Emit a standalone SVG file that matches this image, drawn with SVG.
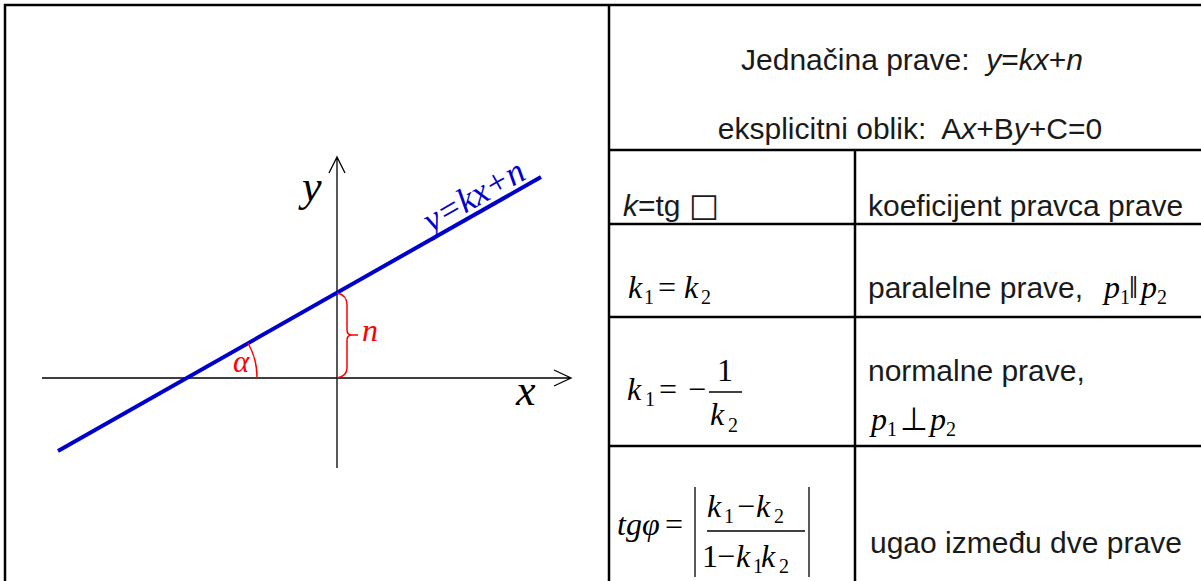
<svg xmlns="http://www.w3.org/2000/svg" width="1201" height="581" viewBox="0 0 1201 581">
<style>
.frame{stroke:#000;stroke-width:2.5;fill:none}
.axis{stroke:#000;stroke-width:1.3;fill:none}
.red{stroke:#f00;stroke-width:1.5;fill:none}
.sans{font-family:"Liberation Sans",Arial,sans-serif;font-size:30px;fill:#1a1a1a}
.m{font-family:"Liberation Serif","Times New Roman",serif;font-size:32px;fill:#000}
.mi{font-family:"Liberation Serif","Times New Roman",serif;font-size:32px;font-style:italic;fill:#000}
.sub{font-family:"Liberation Serif","Times New Roman",serif;font-size:20px;fill:#000}
.thin{stroke:#000;stroke-width:1.3}
</style>
<rect width="1201" height="581" fill="#fff"/>
<g id="frame">
<path class="frame" d="M5,581 V5 H1201"/>
<path class="frame" d="M609,5 V581 M609,150 H1201 M855,150 V581 M609,224 H1201 M609,317 H1201 M609,446 H1201"/>
</g>
<g id="graph">
<g id="axes">
<path class="axis" d="M42,378 H571 M554,370 L571,378 L554,386"/>
<path class="axis" d="M337,468 V157 M329,173 L337,157 L345,173"/>
<text x="516" y="405" font-family="Liberation Serif,serif" font-style="italic" font-size="44">x</text>
<text x="302" y="201" font-family="Liberation Serif,serif" font-style="italic" font-size="44">y</text>
</g>
<g id="line">
<path d="M58,451 L541,177" stroke="#0000cc" stroke-width="4" fill="none"/>
<text transform="translate(431,233) rotate(-29.6)" font-family="Liberation Serif,serif" font-style="italic" font-size="35" fill="#0000cc">y=kx+n</text>
</g>
<g id="angle">
<path class="red" d="M257,378 A70,70 0 0 0 248,343"/>
<text x="233" y="372" font-family="Liberation Serif,serif" font-style="italic" font-size="31" fill="#f00">α</text>
</g>
<g id="intercept">
<path class="red" d="M337,293 Q347,295 347,305 V330 Q347,335 352,335 H358 M352,335 Q347,335 347,340 V368 Q347,376 337,378"/>
<text x="362" y="341" font-family="Liberation Serif,serif" font-style="italic" font-size="32" fill="#f00">n</text>
</g>
</g>
<g id="title">
<text class="sans" x="912" y="70" text-anchor="middle" xml:space="preserve">Jednačina prave:  <tspan font-style="italic">y</tspan>=<tspan font-style="italic">kx</tspan>+<tspan font-style="italic">n</tspan></text>
<text class="sans" x="910" y="139" text-anchor="middle" xml:space="preserve">eksplicitni oblik:  A<tspan font-style="italic">x</tspan>+B<tspan font-style="italic">y</tspan>+C=0</text>
</g>
<g id="row1">
<text class="sans" x="623" y="216"><tspan font-style="italic">k</tspan>=tg <tspan font-family="DejaVu Sans,sans-serif" font-size="32">□</tspan></text>
<text class="sans" x="868" y="216">koeficijent pravca prave</text>
</g>
<g id="row2">
<text class="mi" x="628" y="298">k</text><text class="sub" x="644" y="304">1</text>
<text class="m" x="658" y="298">=</text>
<text class="mi" x="684" y="298">k</text><text class="sub" x="701" y="304">2</text>
<text class="sans" x="868" y="298">paralelne prave,</text>
<text class="mi" x="1104" y="298">p</text><text class="sub" x="1120" y="304">1</text>
<text class="m" x="1129" y="298">‖</text>
<text class="mi" x="1141" y="298">p</text><text class="sub" x="1157" y="304">2</text>
</g>
<g id="row3">
<text class="mi" x="627" y="400">k</text><text class="sub" x="645" y="406">1</text>
<text class="m" x="659" y="400">=</text>
<text class="m" x="688" y="400">−</text>
<line class="thin" x1="709" y1="392" x2="742" y2="392"/>
<text class="m" x="725" y="381" text-anchor="middle">1</text>
<text class="mi" x="710" y="425">k</text><text class="sub" x="728" y="432">2</text>
<text class="sans" x="868" y="381">normalne prave,</text>
<text class="mi" x="871" y="430">p</text><text class="sub" x="887" y="436">1</text>
<text class="m" x="900" y="430">⊥</text>
<text class="mi" x="930" y="430">p</text><text class="sub" x="946" y="436">2</text>
</g>
<g id="row4">
<text class="mi" x="617" y="535">tgφ</text>
<text class="m" x="665" y="535">=</text>
<line class="thin" x1="695" y1="487" x2="695" y2="577"/>
<line class="thin" x1="809" y1="487" x2="809" y2="577"/>
<text class="mi" x="707" y="517">k</text><text class="sub" x="724" y="523">1</text>
<text class="m" x="737" y="517">−</text>
<text class="mi" x="756" y="517">k</text><text class="sub" x="774" y="523">2</text>
<line class="thin" x1="707" y1="531" x2="805" y2="531"/>
<text class="m" x="702" y="567">1</text>
<text class="m" x="717" y="567">−</text>
<text class="mi" x="736" y="567">k</text><text class="sub" x="753" y="573">1</text>
<text class="mi" x="761" y="567">k</text><text class="sub" x="779" y="573">2</text>
<text class="sans" x="870" y="553">ugao između dve prave</text>
</g>
</svg>
